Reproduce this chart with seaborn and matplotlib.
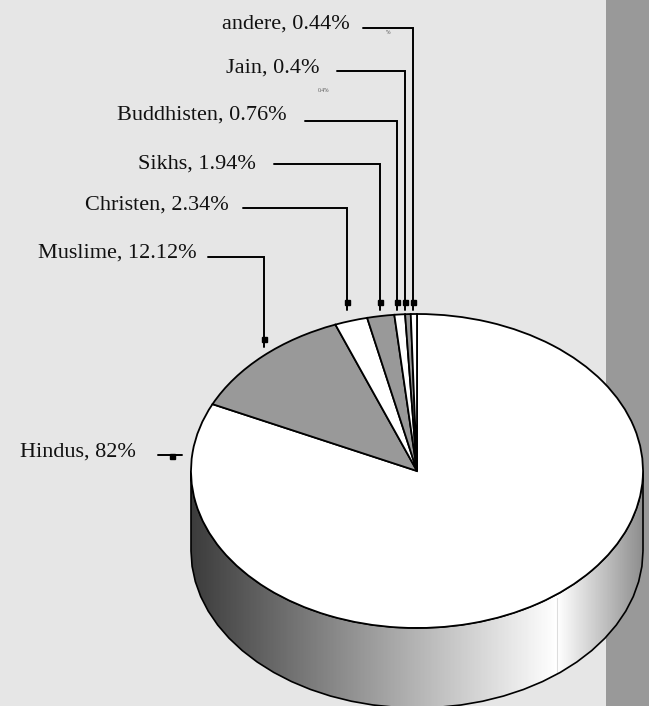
import matplotlib
matplotlib.use('Agg')
import matplotlib.pyplot as plt
from matplotlib.colors import LinearSegmentedColormap
from matplotlib.patches import Polygon, Rectangle
import numpy as np
import seaborn as sns

## Data
names = ['Hindus', 'Muslime', 'Christen', 'Sikhs', 'Buddhisten', 'Jain', 'andere']
shares = [82, 12.12, 2.34, 1.94, 0.76, 0.4, 0.44]

## Layout in reference pixels
W, H = 649, 706
cx, cy, rx, ry, depth = 417, 471, 226, 157, 80
# text right end, baseline
text_pos = [(136, 457), (197, 258), (229, 210), (256, 169), (287, 120), (319, 73), (350, 29)]
# leader: x start, y, corner x, end y
leaders = [(208, 257, 264, 347), (243, 208, 347, 310), (274, 164, 380, 310),
           (305, 121, 397, 310), (337, 71, 405, 310), (363, 28, 413, 310)]

sns.set_theme(style='white', rc={'figure.facecolor': '#e6e6e6', 'axes.facecolor': 'none'})
plt.rcParams['font.family'] = ['Liberation Serif', 'DejaVu Serif']
slice_colors = sns.color_palette(['#ffffff', '#999999'], 2)

fig = plt.figure(figsize=(W / 100, H / 100), dpi=100)

# pixel axes underneath: band, 3D side, leaders, labels
px = fig.add_axes([0, 0, 1, 1])
px.set_xlim(0, W)
px.set_ylim(H, 0)
px.axis('off')
px.add_patch(Rectangle((606, 0), W - 606, H, color='#999999', lw=0, zorder=1))

# side of the cake, faceted like the reference
t = np.linspace(0, np.pi, 33)
top_x = cx + rx * np.cos(t)
top_y = cy + ry * np.sin(t)
outline = np.r_[np.c_[top_x, top_y + depth], np.c_[top_x[::-1], top_y[::-1]]]
side = Polygon(outline, closed=True, facecolor='none', edgecolor='black', lw=1.2, zorder=4)
px.add_patch(side)
split = 557
grad = np.r_[np.linspace(0, 1, 366), np.linspace(1, 0.42, 86)].reshape(1, -1)
cmap = LinearSegmentedColormap.from_list('side', ['#3c3c3c', '#ffffff'])
img = px.imshow(grad, cmap=cmap, vmin=0, vmax=1, aspect='auto',
                extent=(cx - rx, cx + rx, H + 10, cy - 5), zorder=2)
img.set_clip_path(Polygon(outline, closed=True, transform=px.transData))
px.set_xlim(0, W)
px.set_ylim(H, 0)
px.plot([split, split], [598, 673], color='#dddddd', lw=0.8, zorder=3)

# leaders
for x0, y0, xc, y1 in leaders:
    px.plot([x0, xc, xc], [y0, y0, y1], color='black', lw=1.4, solid_joinstyle='miter', zorder=5)
    px.plot([xc], [y1 - 8], marker='s', ms=3.6, color='black', zorder=5)
px.plot([158, 182], [455, 455], color='black', lw=1.4, zorder=5)
px.plot([172], [456], marker='s', ms=3.6, color='black', zorder=5)

# labels
for name, share, (x, y) in zip(names, shares, text_pos):
    px.text(x, y, f'{name}, {share}%', ha='right', va='baseline', fontsize=16,
            color='#111111', zorder=6)
px.text(388, 33, '%', ha='center', va='center', fontsize=4, color='#555555', zorder=6)
px.text(324, 91, '0.4%', ha='center', va='center', fontsize=4, color='#555555', zorder=6)

# pie on top, squashed to an ellipse
ax = fig.add_axes([0, 0, 1, 1], zorder=3)
ax.pie(shares, colors=[slice_colors[i % 2] for i in range(len(shares))], startangle=90,
       counterclock=False, radius=1, wedgeprops={'edgecolor': 'black', 'linewidth': 1.3})
ax.set_aspect('auto')
ax.set_xlim(-cx / rx, (W - cx) / rx)
ax.set_ylim(-(H - cy) / ry, cy / ry)

fig.savefig('out.png', dpi=100, facecolor=fig.get_facecolor())
plt.close()
